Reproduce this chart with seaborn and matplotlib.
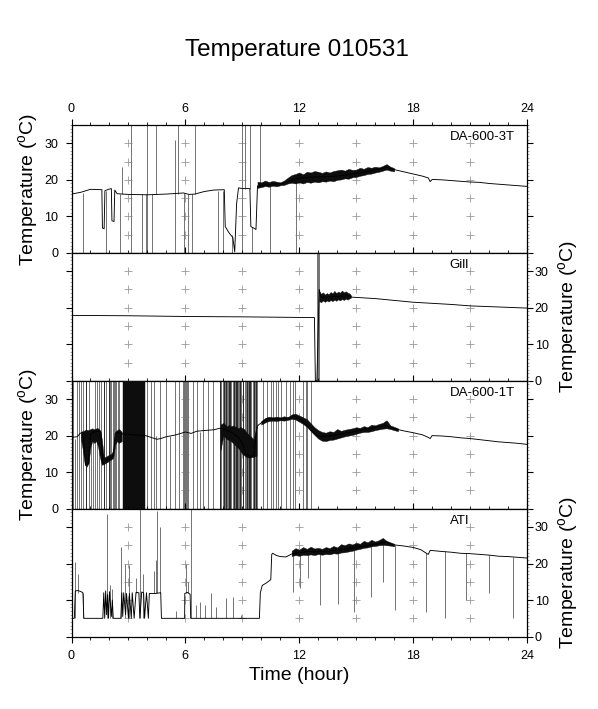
import numpy as np
import matplotlib
matplotlib.use("Agg")
import matplotlib.pyplot as plt
import seaborn as sns
from matplotlib.ticker import MultipleLocator

# ---------------- data ----------------
# DA-600-3T
t_3T = [0.0, 0.5, 1.0, 1.6, 1.63, 1.72, 1.76, 1.95, 2.1, 2.13, 2.24, 2.28, 2.4, 3.0, 4.0, 5.0, 5.9, 6.2, 6.5, 7.0,
        7.5, 8.05, 8.1, 8.3, 8.5, 8.6, 8.7, 8.8, 9.0, 9.4, 9.45, 9.6, 9.72, 9.8, 10.5, 11.0, 11.5, 12.0, 13.0, 14.0,
        15.0, 16.0, 16.6, 17.0, 17.5, 18.0, 18.5, 18.8, 18.9, 19.0, 19.5, 20.0, 20.5, 21.0, 21.5, 22.0, 22.5, 23.0, 23.5, 24.0]
v_3T = [16.1, 16.6, 17.4, 17.3, 6.8, 6.6, 17.0, 17.4, 17.6, 8.8, 8.6, 17.2, 16.2, 16.0, 15.9, 16.1, 16.4, 16.0, 16.1, 16.8,
        17.2, 17.3, 7.2, 5.5, 4.2, 0.3, 13.5, 17.8, 17.6, 17.6, 7.2, 6.8, 6.4, 18.3, 18.8, 18.9, 19.7, 20.5, 20.8, 21.0,
        21.7, 22.7, 23.4, 22.8, 22.2, 21.6, 21.0, 20.5, 19.5, 20.1, 20.0, 19.8, 19.6, 19.4, 19.3, 19.0, 18.8, 18.6, 18.4, 18.2]
band_t_3T = [9.8, 10.0, 10.2, 10.4, 10.6, 10.8, 11.0, 11.2, 11.4, 11.6, 11.8, 12.0, 12.2, 12.4, 12.6, 12.8, 13.0, 13.2, 13.4,
             13.6, 13.8, 14.0, 14.2, 14.4, 14.6, 14.8, 15.0, 15.2, 15.4, 15.6, 15.8, 16.0, 16.2, 16.4, 16.6, 16.8, 17.0]
band_lo_3T = [17.8, 18.0, 18.3, 18.1, 18.4, 18.2, 18.5, 18.6, 19.0, 19.2, 19.0, 19.3, 19.0, 19.4, 19.2, 19.5, 19.3, 19.6, 19.5,
              19.8, 19.6, 20.0, 20.1, 20.4, 20.3, 20.7, 20.8, 21.1, 21.3, 21.6, 21.7, 22.0, 22.2, 22.5, 22.8, 22.5, 22.3]
band_hi_3T = [19.5, 19.3, 19.8, 19.4, 19.7, 19.5, 19.3, 19.8, 20.6, 21.3, 21.6, 22.0, 21.5, 22.2, 22.0, 22.4, 22.2, 21.9, 22.3,
              22.0, 22.4, 22.6, 22.8, 22.5, 23.0, 22.7, 22.8, 23.3, 23.0, 23.5, 23.3, 23.6, 23.4, 23.8, 24.3, 23.6, 23.2]
spike_t_3T = [0.61, 1.81, 2.54, 2.67, 3.16, 3.74, 3.91, 3.98, 4.26, 4.44, 5.44, 5.61, 5.91, 6.14, 6.37, 6.49, 7.72, 7.98,
              8.47, 9.0, 9.16, 9.39, 9.53, 9.91, 10.44, 11.84]
spike_lo_3T = [0, 0, 0, 16, 0, 0, 0, 0, 0, 16, 0, 16, 0, 0, 0, 16, 0, 0, 0, 0, 17.6, 17.6, 0, 18, 0, 0]
spike_hi_3T = [16.5, 17, 16, 23.4, 35, 16, 16, 35, 16, 35, 31, 35, 16.3, 16, 16, 35, 17, 17, 5, 35, 35, 35, 7, 35, 18.5, 20]

# Gill
t_Gill = [0.0, 3.0, 6.0, 9.0, 12.8, 12.85, 12.93, 13.05, 13.15, 13.3, 13.5, 13.7, 13.9, 14.1, 14.3, 14.5, 14.7, 14.75,
          16.0, 18.0, 20.0, 21.0, 22.0, 24.0]
v_Gill = [17.9, 17.8, 17.6, 17.5, 17.3, 0.0, 0.0, 25.0, 23.0, 22.8, 22.9, 23.0, 23.1, 23.0, 23.2, 23.3, 23.2, 22.9,
          22.5, 21.5, 20.9, 20.5, 20.3, 19.9]
band_t_Gill = [13.05, 13.15, 13.25, 13.35, 13.45, 13.55, 13.65, 13.75, 13.85, 13.95, 14.05, 14.15, 14.25, 14.35, 14.45,
               14.55, 14.65, 14.72]
band_lo_Gill = [21.8, 21.5, 22.0, 21.6, 22.0, 21.7, 22.1, 21.8, 22.2, 21.9, 22.3, 22.0, 22.4, 22.1, 22.5, 22.2, 22.6, 22.7]
band_hi_Gill = [24.5, 23.8, 24.2, 23.6, 24.0, 23.7, 24.3, 23.9, 24.6, 24.0, 24.4, 24.1, 24.7, 24.2, 24.5, 24.1, 23.9, 23.4]
spike_t_Gill = [12.93, 12.97, 13.0, 13.03]
spike_lo_Gill = [0, 0, 0, 0]
spike_hi_Gill = [35, 35, 35, 35]

# DA-600-1T
t_1T = [0.0, 0.3, 0.45, 0.6, 0.75, 0.9, 1.0, 1.2, 1.4, 1.55, 1.65, 1.8, 2.0, 2.2, 2.3, 2.4, 2.6, 3.9, 4.2, 4.5,
        4.7, 5.0, 5.5, 6.0, 6.3, 6.6, 7.0, 7.5, 7.8, 8.0, 8.4, 8.8, 9.0, 9.2, 9.4, 9.6, 9.75, 9.8, 10.0, 10.3,
        10.6, 11.0, 11.4, 11.7, 12.0, 12.2, 12.4, 12.7, 13.0, 13.5, 14.0, 14.6, 15.2, 15.8, 16.5, 17.0, 17.5, 18.0, 18.5, 18.8,
        18.9, 19.0, 19.5, 20.0, 20.5, 21.0, 21.5, 22.0, 22.5, 23.0, 23.5, 24.0]
v_1T = [19.5, 19.7, 20.6, 21.0, 12.0, 12.5, 20.5, 21.0, 21.2, 21.0, 12.3, 13.0, 13.6, 14.5, 20.5, 21.0, 20.5, 20.0, 19.5, 19.0,
        19.2, 19.7, 20.2, 21.0, 20.6, 21.2, 21.4, 21.6, 22.0, 21.8, 21.0, 19.5, 18.0, 15.0, 14.3, 14.5, 21.5, 22.7, 23.5, 24.7,
        24.6, 24.5, 24.8, 25.5, 24.6, 23.8, 22.7, 21.0, 19.8, 19.8, 20.3, 20.8, 21.5, 22.0, 22.8, 21.9, 21.3, 20.8, 20.2, 19.5,
        19.2, 20.0, 19.9, 19.7, 19.4, 19.2, 18.9, 18.6, 18.3, 18.1, 17.9, 17.6]
band_a_t_1T = [0.5, 0.6, 0.7, 0.8, 0.9, 1.0, 1.1, 1.2, 1.3, 1.4, 1.5, 1.6, 1.7, 1.8, 1.9, 2.0, 2.1, 2.2, 2.3, 2.4, 2.5, 2.65]
band_a_lo_1T = [19.0, 16.0, 12.0, 11.5, 12.5, 17.0, 18.5, 18.0, 18.5, 17.0, 14.0, 12.0, 12.2, 12.5, 12.8, 13.2, 13.5, 14.0,
                17.5, 18.5, 18.0, 18.5]
band_a_hi_1T = [21.0, 21.2, 21.5, 21.6, 21.5, 21.8, 22.0, 21.7, 22.0, 22.0, 21.5, 19.0, 14.0, 14.2, 14.5, 14.8, 15.0, 16.0,
                21.0, 21.5, 21.8, 21.0]
band_b_t_1T = [2.7, 3.85]
band_b_lo_1T = [0, 0]
band_b_hi_1T = [35, 35]
band_c_t_1T = [7.85, 8.0, 8.1, 8.2, 8.3, 8.4, 8.5, 8.6, 8.7, 8.8, 8.9, 9.0, 9.1, 9.2, 9.3, 9.4, 9.5, 9.6, 9.75]
band_c_lo_1T = [16.0, 20.0, 19.5, 19.0, 18.8, 18.5, 18.0, 17.5, 17.0, 16.5, 15.8, 15.0, 14.6, 14.2, 14.0, 14.0, 14.1, 14.2, 14.5]
band_c_hi_1T = [23.0, 23.5, 23.0, 22.5, 23.0, 22.5, 22.8, 22.5, 22.3, 22.0, 22.4, 22.0, 21.8, 21.0, 20.5, 20.0, 19.5, 19.0, 22.5]
band_d_t_1T = [10.0, 10.2, 10.4, 10.6, 10.8, 11.0, 11.2, 11.4, 11.6, 11.8, 12.0, 12.2, 12.4, 12.6, 12.8, 13.0, 13.2, 13.4,
               13.6, 13.8, 14.0, 14.2, 14.4, 14.6, 14.8, 15.0, 15.2, 15.4, 15.6, 15.8, 16.0, 16.2, 16.4, 16.6, 16.8, 17.0, 17.2]
band_d_lo_1T = [23.0, 23.6, 24.0, 24.1, 24.0, 24.2, 24.1, 24.3, 24.6, 24.4, 23.8, 23.2, 22.4, 21.3, 20.2, 19.2, 18.6, 18.5,
                18.8, 18.9, 19.2, 19.5, 19.8, 20.0, 20.2, 20.5, 20.8, 21.0, 21.0, 21.2, 21.5, 21.7, 21.9, 22.0, 21.8, 21.5, 21.2]
band_d_hi_1T = [24.0, 24.8, 25.2, 25.0, 25.2, 25.0, 25.3, 25.0, 25.8, 26.0, 25.5, 25.0, 24.5, 23.4, 22.3, 21.5, 21.0, 20.8,
                21.2, 21.0, 21.8, 21.3, 21.6, 21.8, 22.0, 22.3, 22.1, 22.6, 22.3, 23.0, 22.8, 23.2, 23.5, 24.2, 22.8, 22.4, 22.0]
spike_t_1T = [0.1, 0.18, 0.27, 0.4, 0.5, 0.61, 0.93, 1.05, 1.14, 1.25, 1.35, 1.47, 1.58, 1.84, 2.02, 2.1, 2.19, 2.25,
              2.3, 2.37, 2.44, 2.51, 3.98, 4.21, 4.35, 4.47, 4.65, 5.0, 5.18, 5.44, 5.67, 5.88, 5.92, 5.95, 5.98, 6.02,
              6.07, 6.14, 6.4, 6.63, 6.75, 6.93, 7.19, 7.46, 7.9, 7.98, 8.1, 8.18, 8.25, 8.42, 8.5, 8.6, 8.77, 8.85,
              8.95, 9.12, 9.2, 9.3, 9.47, 9.55, 9.65, 9.8, 10.09, 10.3, 10.53, 10.6, 10.79, 10.9, 11.05, 11.32, 11.5,
              11.67, 11.75, 12.19, 12.37, 12.4, 12.6]
spike_lo_1T = [0, 0, 0, 0, 0, 0, 0, 0, 0, 0, 0, 0, 0, 0, 0, 0, 0, 0, 0, 0, 0, 0, 0, 0, 0, 0, 0, 0, 0, 0, 0, 0, 0, 0,
               0, 0, 0, 0, 0, 0, 0, 0, 0, 0, 0, 0, 0, 0, 0, 0, 0, 0, 0, 0, 0, 0, 0, 0, 0, 0, 0, 0, 0, 0, 0, 0, 0, 0,
               0, 0, 0, 0, 0, 0, 0, 0, 0]
spike_hi_1T = [35, 19, 35, 35, 35, 35, 35, 21, 21, 35, 35, 35, 35, 35, 35, 35, 35, 35, 35, 35, 35, 35, 35, 35, 35, 20,
               35, 35, 20, 35, 35, 35, 35, 35, 35, 35, 35, 35, 35, 35, 21, 35, 35, 35, 35, 35, 35, 35, 35, 35, 35, 35,
               35, 35, 35, 35, 35, 35, 35, 35, 35, 35, 35, 35, 35, 35, 35, 35, 35, 35, 35, 35, 35, 35, 35, 35, 35]
dark_t_1T = [0.75, 1.7, 1.95, 7.85, 8.03, 8.14, 8.3, 8.36, 8.55, 8.67, 8.72, 8.9, 9.05, 9.25, 9.35, 9.42, 9.6, 9.7]
dark_lo_1T = [0, 0, 0, 0, 0, 0, 0, 0, 0, 0, 0, 0, 0, 0, 0, 0, 0, 0]
dark_hi_1T = [35, 35, 35, 35, 35, 35, 35, 35, 35, 35, 35, 35, 35, 35, 35, 35, 35, 35]

# ATI
t_ATI = [0.0, 0.15, 0.2, 0.35, 0.5, 0.6, 0.65, 1.65, 1.7, 1.75, 1.8, 1.85, 1.9, 1.95, 2.0, 2.1, 2.15, 2.2, 2.6, 2.65,
         2.7, 2.75, 2.85, 2.9, 3.0, 3.05, 3.15, 3.2, 3.3, 3.4, 3.55, 3.6, 3.7, 3.8, 3.85, 3.95, 4.05, 4.1, 4.4, 4.7,
         4.74, 5.96, 5.97, 6.1, 6.25, 6.28, 9.9, 9.95, 10.05, 10.3, 10.5, 10.55, 10.6, 10.8, 11.0, 11.3, 11.6, 12.0, 12.5, 13.0,
         13.5, 14.0, 14.5, 15.0, 15.5, 16.0, 16.6, 17.0, 17.5, 18.0, 18.4, 18.7, 18.8, 18.9, 19.5, 20.0, 20.5, 21.0, 21.5, 22.0,
         22.5, 23.0, 23.5, 24.0]
v_ATI = [5.0, 5.0, 12.5, 12.6, 12.3, 12.0, 5.0, 5.0, 12.0, 5.0, 12.5, 6.0, 11.5, 5.0, 12.3, 5.5, 10.0, 5.0, 5.0, 12.0,
         5.5, 12.0, 6.0, 11.8, 5.0, 11.8, 5.0, 12.0, 5.0, 12.1, 12.0, 5.0, 12.2, 12.0, 5.0, 12.0, 5.0, 11.8, 11.8, 12.0,
         5.0, 5.0, 11.8, 12.1, 11.6, 5.0, 5.0, 12.0, 14.0, 14.8, 15.6, 22.5, 22.8, 22.2, 21.9, 21.8, 22.6, 23.0, 23.3, 23.2,
         23.4, 23.7, 24.0, 24.5, 24.8, 25.3, 25.9, 25.1, 24.8, 24.4, 23.8, 22.8, 22.5, 23.6, 23.3, 23.1, 22.8, 22.7, 22.5, 22.3,
         22.0, 21.9, 21.7, 21.5]
band_t_ATI = [11.6, 11.8, 12.0, 12.2, 12.4, 12.6, 12.8, 13.0, 13.2, 13.4, 13.6, 13.8, 14.0, 14.2, 14.4, 14.6, 14.8, 15.0,
              15.2, 15.4, 15.6, 15.8, 16.0, 16.2, 16.4, 16.6, 16.8, 17.0]
band_lo_ATI = [22.0, 22.3, 22.1, 22.4, 22.3, 22.5, 22.3, 22.6, 22.4, 22.6, 22.5, 22.8, 22.7, 23.0, 23.1, 23.3, 23.5, 23.8,
               24.0, 24.3, 24.4, 24.7, 24.8, 25.0, 25.1, 25.0, 24.9, 24.7]
band_hi_ATI = [23.5, 24.2, 23.8, 24.5, 24.0, 24.6, 24.1, 24.3, 24.0, 24.5, 24.2, 24.8, 24.4, 25.3, 25.0, 25.5, 25.2, 25.7,
               25.4, 26.2, 25.8, 26.5, 26.0, 26.4, 27.0, 26.2, 25.8, 25.4]
spike_t_ATI = [0.18, 0.35, 0.61, 1.89, 2.02, 2.16, 2.63, 2.81, 3.02, 3.39, 3.6, 3.77, 4.33, 4.47, 4.53, 4.65, 5.49, 6.02,
               6.14, 6.32, 6.58, 6.75, 7.02, 7.37, 7.63, 8.16, 8.51, 8.95, 11.67, 12.02, 12.46, 13.1, 14.03, 14.91, 15.76,
               16.4, 17.05, 18.68, 19.68, 20.78, 22.0, 23.28]
spike_lo_ATI = [5, 12, 5, 5, 5, 5, 5, 5, 5, 12, 5, 5, 12, 12, 12, 12, 5, 12, 12, 5, 5, 5, 5, 5, 5, 5, 5, 5, 12.3, 13.2,
                16, 8.6, 8.8, 6.8, 10.9, 15, 7.3, 6.8, 5, 10, 11.8, 5]
spike_hi_ATI = [20.5, 17, 12, 33.6, 14, 13, 24.5, 20, 19.5, 16, 35, 17, 18, 21, 34.5, 30, 7, 20, 15, 35, 8.6, 9.5, 8.6,
                12, 8, 10.5, 10.9, 6, 22, 22.5, 23, 23.5, 24, 24.5, 25, 25.8, 25, 23, 23.3, 22.8, 22.4, 21.7]

grid_hours = [3, 6, 9, 12, 15, 18, 21]
grid_temps = [5, 10, 15, 20, 25, 30]

GRAY, DARK = "0.45", "0.15"
panels = [
    ("DA-600-3T", t_3T, v_3T, [(band_t_3T, band_lo_3T, band_hi_3T)],
     [(spike_t_3T, spike_lo_3T, spike_hi_3T, GRAY)], "left"),
    ("Gill", t_Gill, v_Gill, [(band_t_Gill, band_lo_Gill, band_hi_Gill)],
     [(spike_t_Gill, spike_lo_Gill, spike_hi_Gill, GRAY)], "right"),
    ("DA-600-1T", t_1T, v_1T, [(band_a_t_1T, band_a_lo_1T, band_a_hi_1T),
                               (band_b_t_1T, band_b_lo_1T, band_b_hi_1T),
                               (band_c_t_1T, band_c_lo_1T, band_c_hi_1T),
                               (band_d_t_1T, band_d_lo_1T, band_d_hi_1T)],
     [(spike_t_1T, spike_lo_1T, spike_hi_1T, GRAY), (dark_t_1T, dark_lo_1T, dark_hi_1T, DARK)], "left"),
    ("ATI", t_ATI, v_ATI, [(band_t_ATI, band_lo_ATI, band_hi_ATI)],
     [(spike_t_ATI, spike_lo_ATI, spike_hi_ATI, GRAY)], "right"),
]

# ---------------- style ----------------
sns.set_style("ticks")
plt.rcParams["font.family"] = ["Liberation Sans", "DejaVu Sans"]
plt.rcParams["mathtext.fontset"] = "custom"
plt.rcParams["mathtext.rm"] = "Liberation Sans"
plt.rcParams["axes.linewidth"] = 0.9
plt.rcParams["axes.edgecolor"] = "black"
for key in ("text.color", "axes.labelcolor", "xtick.color", "ytick.color"):
    plt.rcParams[key] = "black"

fig = plt.figure(figsize=(5.98, 7.09), dpi=100)
W, H = 598.0, 709.0
left = 71.5 / W
width = 455.5 / W
top0 = 125.0
ph = 127.9
ylab = "Temperature ($^{\\rm o}$C)"

gx, gy = np.meshgrid(grid_hours, grid_temps)

for i, (name, t, v, bands, spikes, side) in enumerate(panels):
    bottom = 1 - (top0 + ph * (i + 1)) / H
    ax = fig.add_axes([left, bottom, width, ph / H])

    ax.plot(gx.ravel(), gy.ravel(), "+", ms=5.5, mew=0.6, color="0.6", zorder=1)
    for st, slo, shi, shade in spikes:
        ax.vlines(st, slo, shi, color=shade, lw=0.7, zorder=2)
    for bt, blo, bhi in bands:
        ax.fill_between(bt, blo, bhi, color="0.05", lw=0.3, zorder=3)
    sns.lineplot(x=t, y=v, ax=ax, color="black", linewidth=0.65, estimator=None,
                 sort=False, legend=False, zorder=4)

    ax.set_xlim(0, 24)
    ax.set_ylim(0, 35)
    ax.xaxis.set_major_locator(MultipleLocator(6))
    ax.xaxis.set_minor_locator(MultipleLocator(1))
    ax.yaxis.set_major_locator(MultipleLocator(10))
    ax.yaxis.set_minor_locator(MultipleLocator(1))
    ax.tick_params(which="major", direction="out", length=4, width=0.8, labelsize=9,
                   top=True, bottom=True, left=True, right=True,
                   labeltop=False, labelbottom=False, labelleft=False, labelright=False)
    ax.tick_params(axis="x", which="minor", direction="out", length=2, width=0.6,
                   top=True, bottom=True)
    ax.tick_params(axis="y", which="minor", direction="out", length=1.6, width=0.5,
                   color="0.5", left=True, right=True)
    ax.tick_params(axis="x", which="major", pad=3)
    ax.set_xlabel("")

    if side == "left":
        ax.tick_params(axis="y", labelleft=True, pad=5.5)
        ax.set_ylabel(ylab, fontsize=14)
        ax.yaxis.set_label_coords(-0.066, 0.5)
    else:
        ax.tick_params(axis="y", labelright=True, pad=1.5)
        ax.yaxis.set_label_position("right")
        ax.set_ylabel(ylab, fontsize=14, rotation=90)
        ax.yaxis.set_label_coords(1.064, 0.5)

    if i == 0:
        ax.tick_params(axis="x", labeltop=True, pad=3)
    if i == len(panels) - 1:
        ax.tick_params(axis="x", labelbottom=True, pad=6)
        ax.set_xlabel("Time (hour)", fontsize=14)
        ax.xaxis.set_label_coords(0.5, -0.235)

    ax.text(0.83, 0.905, name, transform=ax.transAxes, fontsize=9.5,
            ha="left", va="center", zorder=5)

fig.text(296.7 / W, 1 - 50 / H, "Temperature 010531", ha="center", va="center", fontsize=17.5)

fig.savefig("out.png", dpi=100)
